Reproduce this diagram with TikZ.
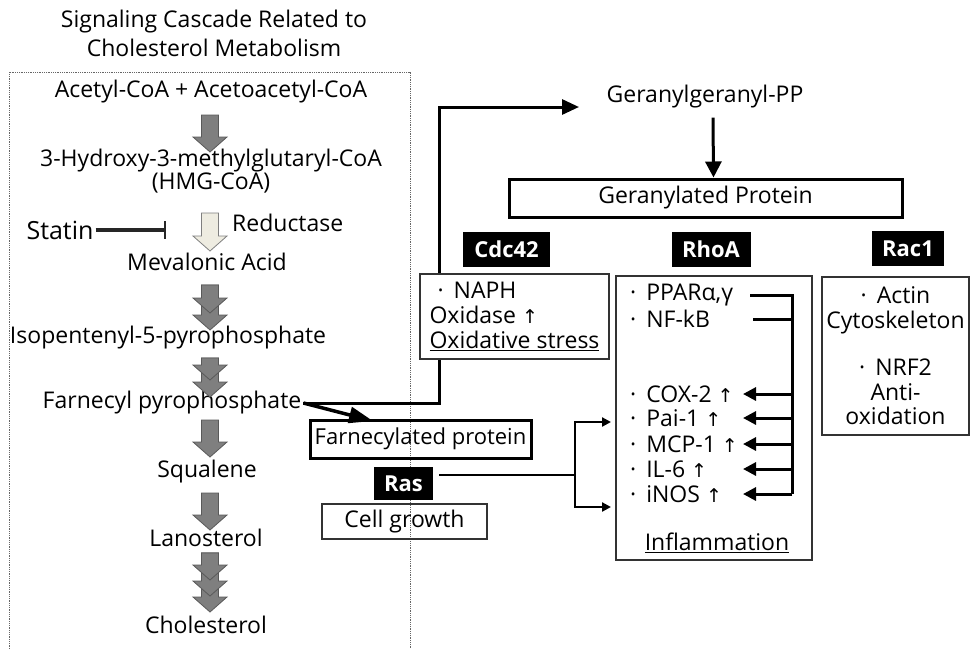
\documentclass[tikz,border=0pt]{standalone}
\usepackage{fontspec}
\setmainfont{Open Sans}
\newfontfamily\symf{DejaVu Sans}
\usetikzlibrary{arrows.meta,positioning}
\definecolor{arrgray}{HTML}{7F7F7F}
\definecolor{arrline}{HTML}{595959}
\definecolor{cream}{HTML}{EEECE1}
\newcommand{\uparr}{{\symf\fontsize{19}{20}\selectfont ↑}}
\newcommand{\bul}{·\hspace{10pt}}
% block arrow: [style]{x}{top}{tip}
\newcommand{\fatarrow}[4][fatgray]{%
  \filldraw[#1] (#2-8.5,#3) -- (#2+8.5,#3) -- (#2+8.5,#4-15) -- (#2+17,#4-15)
    -- (#2,#4) -- (#2-17,#4-15) -- (#2-8.5,#4-15) -- cycle;}
\begin{document}
\begin{tikzpicture}[x=1pt,y=-1pt,
    every node/.style={font=\fontsize{23}{25}\selectfont, inner sep=2pt},
    fatgray/.style={fill=arrgray, draw=arrline, line width=0.8pt},
    fatcream/.style={fill=cream, draw=arrgray, line width=0.8pt},
    tag/.style={fill=black, text=white, font=\fontsize{22}{25}\selectfont\bfseries,
      minimum height=35pt, inner sep=0pt},
    thinbox/.style={draw=black!80, line width=1.2pt},
    thickbox/.style={draw=black, line width=3pt},
    link/.style={line width=3pt, -{Triangle[length=17pt,width=15pt]}},
    forkarr/.style={line width=2.8pt, -{Triangle[length=9pt,width=9pt]}},
    busarr/.style={line width=3pt, -{Triangle[length=13pt,width=13pt]}}]
  \useasboundingbox (0,0) rectangle (973,649);

  % cholesterol pathway
  \draw[densely dotted, black!60, line width=0.8pt] (9,649) -- (9,72) -- (410,72) -- (410,649);
  \node[align=center, font=\fontsize{23}{29}\selectfont] (title) at (214,33)
    {Signaling Cascade Related to\\Cholesterol Metabolism};
  \node (acetyl) at (211,92) {Acetyl-CoA + Acetoacetyl-CoA};
  \node[align=center, font=\fontsize{23}{23}\selectfont] (hmg) at (211,171)
    {3-Hydroxy-3-methylglutaryl-CoA\\(HMG-CoA)};
  \node[anchor=west] (reductase) at (230,223) {Reductase};
  \node[font=\fontsize{25}{26}\selectfont] (statin) at (60,230) {Statin};
  \node (mevalonic) at (207,262) {Mevalonic Acid};
  \node (isopent) at (168,338) {Isopentenyl-5-pyrophosphate};
  \node (farnesyl) at (172,403) {Farnecyl pyrophosphate};
  \node (squalene) at (207,472) {Squalene};
  \node (lanosterol) at (206,538) {Lanosterol};
  \node (cholesterol) at (206,625) {Cholesterol};

  \fatarrow{210}{115}{152}
  \fatarrow[fatcream]{210}{213}{251}
  \fatarrow{210}{285}{330}\fatarrow{210}{285}{313}
  \fatarrow{210}{358}{397}\fatarrow{210}{358}{380}
  \fatarrow{210}{420}{457}
  \fatarrow{210}{493}{530}
  \fatarrow{210}{553}{612}\fatarrow{210}{553}{596}\fatarrow{210}{553}{580}

  \draw[line width=3.5pt, draw=black!85, -{Bar[width=18pt,line width=2.5pt]}]
    (statin.east) -- (166,230);

  % branch to geranylgeranyl-PP
  \coordinate (bend) at (439,107);
  \coordinate (ggin) at (579,107);
  \draw[link] (farnesyl.east) -| (bend) -- (ggin);
  \coordinate (fpin) at (373,421);
  \draw[line width=3.5pt, -{Triangle[length=24pt,width=16pt]}] (farnesyl.east) -- (fpin);

  \node (ggpp) at (705,97) {Geranylgeranyl-PP};
  \node[thickbox, minimum width=393pt, minimum height=38pt] (gerprot) at (705.5,198)
    {Geranylated Protein};
  \draw[line width=3pt, -{Triangle[length=16pt,width=16pt]}]
    ([xshift=8pt,yshift=-7pt]ggpp.south) -- ([xshift=8pt]gerprot.north);

  \node[tag, minimum width=87pt] (cdc) at (506.5,249.5) {Cdc42};
  \node[tag, minimum width=79pt] (rhoa) at (711,249.5) {RhoA};
  \node[tag, minimum width=72pt] (rac) at (908,248.5) {Rac1};

  \node[thinbox, fill=white, minimum width=189pt, minimum height=85pt, align=left]
    (cdcbox) at (514.5,316.5)
    {\hspace*{8pt}\bul NAPH\\Oxidase \uparr\\\underline{Oxidative stress}};

  % RhoA targets
  \node[thinbox, minimum width=196pt, minimum height=284pt] (rhobox) at (714,418) {};
  \node[anchor=west] (ppar) at (628,295) {\bul PPARα,γ};
  \node[anchor=west] (nfkb) at (628,319) {\bul NF-kB};
  \node[anchor=west] (cox) at (628,394) {\bul COX-2 \uparr};
  \node[anchor=west] (pai) at (628,418) {\bul Pai-1 \uparr};
  \node[anchor=west] (mcp) at (628,444) {\bul MCP-1 \uparr};
  \node[anchor=west] (il) at (628,469) {\bul IL-6 \uparr};
  \node[anchor=west] (inos) at (628,494) {\bul iNOS \uparr};
  \node (inflam) at (717,543) {\underline{Inflammation}};
  \coordinate (bus) at (792,292);
  \draw[line width=3pt] (750,0 |- ppar) -| (bus |- inos);
  \draw[line width=3pt] (753,0 |- nfkb) -- (bus |- nfkb);
  \foreach \n in {cox,pai,mcp,il,inos}
    \draw[busarr] (bus |- \n) -- (743,0 |- \n);

  \node[thinbox, minimum width=147pt, minimum height=158pt, align=center,
    font=\fontsize{23}{24.5}\selectfont] (racbox) at (895.5,356)
    {\bul Actin\\Cytoskeleton\\[23pt]\bul NRF2\\Anti-\\oxidation};

  % Ras
  \node[thickbox, minimum width=221pt, minimum height=38pt,
    font=\fontsize{22}{25}\selectfont] (farnprot) at (420.5,439) {Farnecylated protein};
  \node[tag, minimum width=59pt, minimum height=33pt] (ras) at (403.5,483.5) {Ras};
  \node[thinbox, minimum width=165pt, minimum height=35pt] (growth) at (404.5,521.5)
    {Cell growth};
  \coordinate (rasout) at (439,475);
  \coordinate (fork) at (575,475);
  \coordinate (rin1) at (611,422);
  \coordinate (rin2) at (611,507);
  \draw[line width=2.8pt] (rasout) -- (fork);
  \draw[forkarr] (fork) |- (rin1);
  \draw[forkarr] (fork) |- (rin2);
\end{tikzpicture}
\end{document}
